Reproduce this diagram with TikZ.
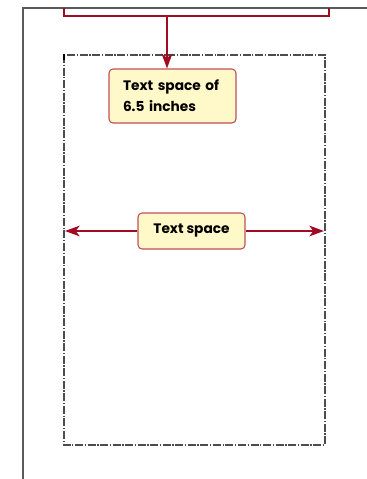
\documentclass[tikz,border=0pt]{standalone}
\usepackage{fontspec}
\setmainfont{Poppins}
\usetikzlibrary{arrows.meta}
\definecolor{bracketred}{HTML}{9E0B22}
\definecolor{notefill}{HTML}{FFF8C8}
\definecolor{noteline}{HTML}{C0505A}
\definecolor{pagegray}{HTML}{5A5A5A}
\tikzset{
  note/.style={draw=noteline, fill=notefill, rounded corners=3pt, line width=0.8pt,
    align=left, inner sep=0pt, font=\fontsize{10.3}{15.5}\selectfont\bfseries},
  redline/.style={draw=bracketred, line width=1.5pt},
  redarrow/.style={redline, -{Stealth[length=11pt, width=8pt, inset=3pt]}}
}
\begin{document}
\begin{tikzpicture}[x=0.75pt, y=-0.75pt]
    \useasboundingbox (0,0) rectangle (367,479);
    % Page edge
    \draw[pagegray, line width=0.9pt] (23,479) -- (23,8) -- (367,8);
    % Text block
    \draw[black!70, line width=0.8pt, dash pattern=on 6pt off 1.2pt on 1pt off 1.2pt]
    (64,55) rectangle (325,445);
    \draw[black, line width=1.6pt] (64,54) -- (64,60);

    % Bracket over the full width
    \coordinate (bl) at (64,8); \coordinate (br) at (329,8);
    \draw[redline] (bl) -- (64,16) -- (329,16) -- (br);
    \coordinate (drop) at (167,16);

    % Labels
    \node[note, minimum width=127pt*0.75, minimum height=54pt*0.75,
    text width=99pt*0.75] (width) at (172.5,96) {Text space of\\6.5 inches};
    \node[note, minimum width=107pt*0.75, minimum height=36pt*0.75,
    align=center] (space) at (191.5,231) {Text space};

    % Arrows
    \draw[redarrow] (drop) -- (drop |- width.north);
    \coordinate (sl) at (65,231); \coordinate (sr) at (324,231);
    \draw[redarrow] (space.west) -- (sl);
    \draw[redarrow] (space.east) -- (sr);
\end{tikzpicture}
\end{document}
